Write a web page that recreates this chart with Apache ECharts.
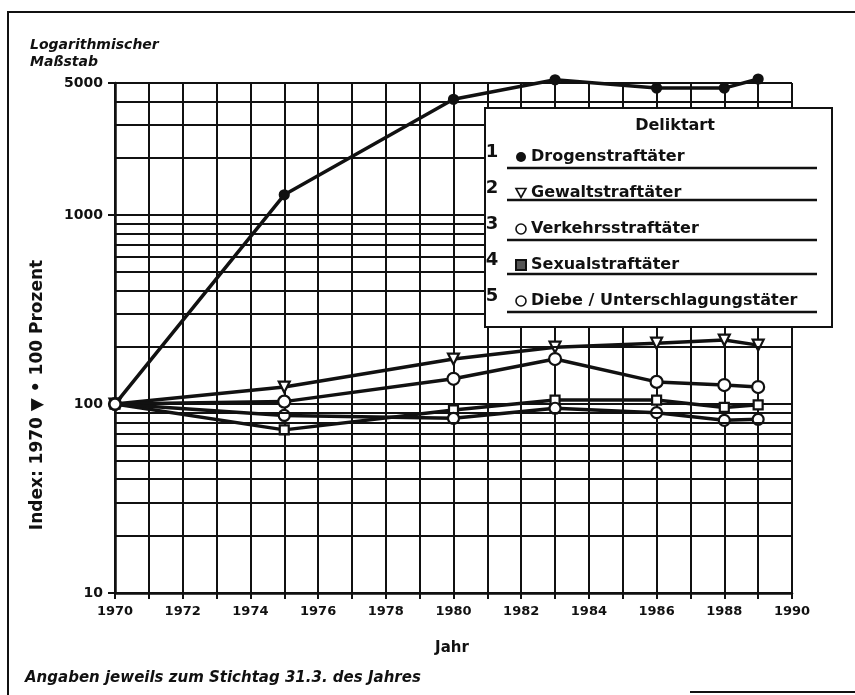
<!DOCTYPE html>
<html>
<head>
<meta charset="utf-8">
<script src="https://cdn.jsdelivr.net/npm/echarts@6/dist/echarts.min.js"></script>
<style>
  html, body { margin: 0; padding: 0; background: #fff; }
  #chart { width: 855px; height: 695px; }
</style>
</head>
<body>
<div id="chart"></div>
<script>
// Jahre (Stichtag 31.3.)
var years = [1970, 1975, 1980, 1983, 1986, 1988, 1989];

// Index 1970 = 100
var drogen  = [100, 1280, 4100, 5200, 4700, 4700, 5250];
var gewalt  = [100, 123, 173, 200, 210, 218, 205];
var verkehr = [100, 103, 136, 173, 131, 126, 123];
var sexual  = [100, 73, 93, 105, 105, 96, 99];
var diebe   = [100, 87, 84, 95, 90, 82, 83];

var seriesNames = ['Drogenstraftäter', 'Gewaltstraftäter', 'Verkehrsstraftäter',
                   'Sexualstraftäter', 'Diebe / Unterschlagungstäter'];

// Zwischenlinien des log. Rasters
var minorLines = [20, 30, 40, 50, 60, 70, 80, 90,
                  200, 300, 400, 500, 600, 700, 800, 900,
                  2000, 3000, 4000];

var FONT = '"DejaVu Sans", "Liberation Sans", sans-serif';
var INK = '#111';

function pairs(vals) {
    var out = [];
    for (var i = 0; i < years.length; i++) {
        out.push([years[i], vals[i]]);
    }
    return out;
}

function makeSeries(name, vals, symbol, size, filled, extra) {
    var s = {
        name: name,
        type: 'line',
        data: pairs(vals),
        symbol: symbol,
        symbolSize: size,
        showAllSymbol: true,
        clip: false,
        z: 3,
        lineStyle: { color: INK, width: 3.5 },
        itemStyle: {
            color: filled ? INK : '#fff',
            borderColor: INK,
            borderWidth: 2.2
        },
        emphasis: { disabled: true },
        animation: false
    };
    for (var k in extra) s[k] = extra[k];
    return s;
}

var series = [
    makeSeries(seriesNames[0], drogen, 'circle', 9, true, {
        markLine: {
            silent: true,
            symbol: 'none',
            label: { show: false },
            lineStyle: { color: INK, type: 'solid', width: 2 },
            animation: false,
            data: minorLines.map(function (v) { return { yAxis: v }; })
        }
    }),
    makeSeries(seriesNames[1], gewalt, 'triangle', 11, false, { symbolRotate: 180 }),
    makeSeries(seriesNames[2], verkehr, 'circle', 12, false, {}),
    makeSeries(seriesNames[3], sexual, 'rect', 9, false, {}),
    makeSeries(seriesNames[4], diebe, 'circle', 11, false, {})
];

var hollow = { color: '#fff', borderColor: INK, borderWidth: 1.6 };

var legendY = [152, 188, 224, 260, 296];
var underY  = [168, 200, 240, 274, 312];

var graphics = [
    // Rahmen
    { type: 'polyline', z: 1, shape: { points: [[8, 695], [8, 12], [855, 12]] },
      style: { stroke: INK, lineWidth: 2, fill: null } },
    { type: 'line', z: 1, shape: { x1: 690, y1: 692, x2: 855, y2: 692 },
      style: { stroke: INK, lineWidth: 2 } },
    { type: 'text', x: 30, y: 45, z: 20,
      style: { text: 'Logarithmischer', font: 'italic bold 14px ' + FONT, fill: INK, verticalAlign: 'middle' } },
    { type: 'text', x: 30, y: 62, z: 20,
      style: { text: 'Maßstab', font: 'italic bold 14px ' + FONT, fill: INK, verticalAlign: 'middle' } },
    { type: 'text', x: 38, y: 395, rotation: Math.PI / 2, z: 20,
      style: { text: 'Index: 1970 ▼ • 100 Prozent', font: 'bold 17px ' + FONT, fill: INK,
               align: 'center', verticalAlign: 'middle' } },
    { type: 'text', x: 452, y: 648, z: 20,
      style: { text: 'Jahr', font: 'bold 15px ' + FONT, fill: INK, align: 'center', verticalAlign: 'middle' } },
    { type: 'text', x: 25, y: 678, z: 20,
      style: { text: 'Angaben jeweils zum Stichtag 31.3. des Jahres', font: 'italic bold 15px ' + FONT,
               fill: INK, verticalAlign: 'middle' } },
    // Legendenkasten
    { type: 'rect', z: 10, shape: { x: 485, y: 108, width: 347, height: 219 },
      style: { fill: '#fff', stroke: INK, lineWidth: 2 } },
    { type: 'text', x: 675, y: 126, z: 20,
      style: { text: 'Deliktart', font: 'bold 16px ' + FONT, fill: INK, align: 'center', verticalAlign: 'middle' } }
];

for (var i = 0; i < 5; i++) {
    graphics.push({ type: 'text', x: 492, y: legendY[i], z: 20,
        style: { text: String(i + 1), font: 'bold 18px ' + FONT, fill: INK, align: 'center', verticalAlign: 'middle' } });
    graphics.push({ type: 'line', z: 20, shape: { x1: 507, y1: underY[i], x2: 817, y2: underY[i] },
        style: { stroke: INK, lineWidth: 2.5 } });
}

var chart = echarts.init(document.getElementById('chart'), null, { renderer: 'canvas' });

chart.setOption({
    backgroundColor: '#fff',
    animation: false,
    textStyle: { fontFamily: FONT },
    grid: { left: 115, right: 63, top: 83, bottom: 102 },
    legend: {
        orient: 'vertical',
        left: 510,
        top: 143,
        z: 30,
        itemWidth: 10,
        itemHeight: 10,
        itemGap: 18,
        selectedMode: false,
        textStyle: { color: INK, fontSize: 16, fontWeight: 'bold', lineHeight: 18, fontFamily: FONT },
        data: [
            { name: seriesNames[0], icon: 'circle', itemStyle: { color: INK, borderWidth: 0 } },
            { name: seriesNames[1], icon: 'path://M0,0L10,0L5,9Z', itemStyle: hollow },
            { name: seriesNames[2], icon: 'circle', itemStyle: hollow },
            { name: seriesNames[3], icon: 'rect', itemStyle: { color: '#555', borderColor: INK, borderWidth: 2 } },
            { name: seriesNames[4], icon: 'circle', itemStyle: hollow }
        ]
    },
    xAxis: {
        type: 'value',
        min: 1970,
        max: 1990,
        interval: 2,
        axisLine: { show: true, lineStyle: { color: INK, width: 2.5 } },
        axisTick: { show: true, length: 6, lineStyle: { color: INK, width: 2 } },
        minorTick: { show: true, splitNumber: 2, length: 6, lineStyle: { color: INK, width: 2 } },
        splitLine: { show: true, lineStyle: { color: INK, width: 2 } },
        minorSplitLine: { show: true, lineStyle: { color: INK, width: 2 } },
        axisLabel: {
            color: INK, fontSize: 13, fontWeight: 'bold', margin: 12,
            formatter: function (v) { return String(v); }
        }
    },
    yAxis: {
        type: 'log',
        logBase: 10,
        min: 10,
        max: 5000,
        axisLine: { show: true, lineStyle: { color: INK, width: 2.5 } },
        axisTick: { show: true, length: 7, lineStyle: { color: INK, width: 2 } },
        splitLine: { show: true, lineStyle: { color: INK, width: 2 } },
        axisLabel: {
            color: INK, fontSize: 14, fontWeight: 'bold', margin: 12,
            formatter: function (v) { return String(Math.round(v)); }
        }
    },
    tooltip: { show: false },
    series: series,
    graphic: graphics
});
</script>
</body>
</html>
